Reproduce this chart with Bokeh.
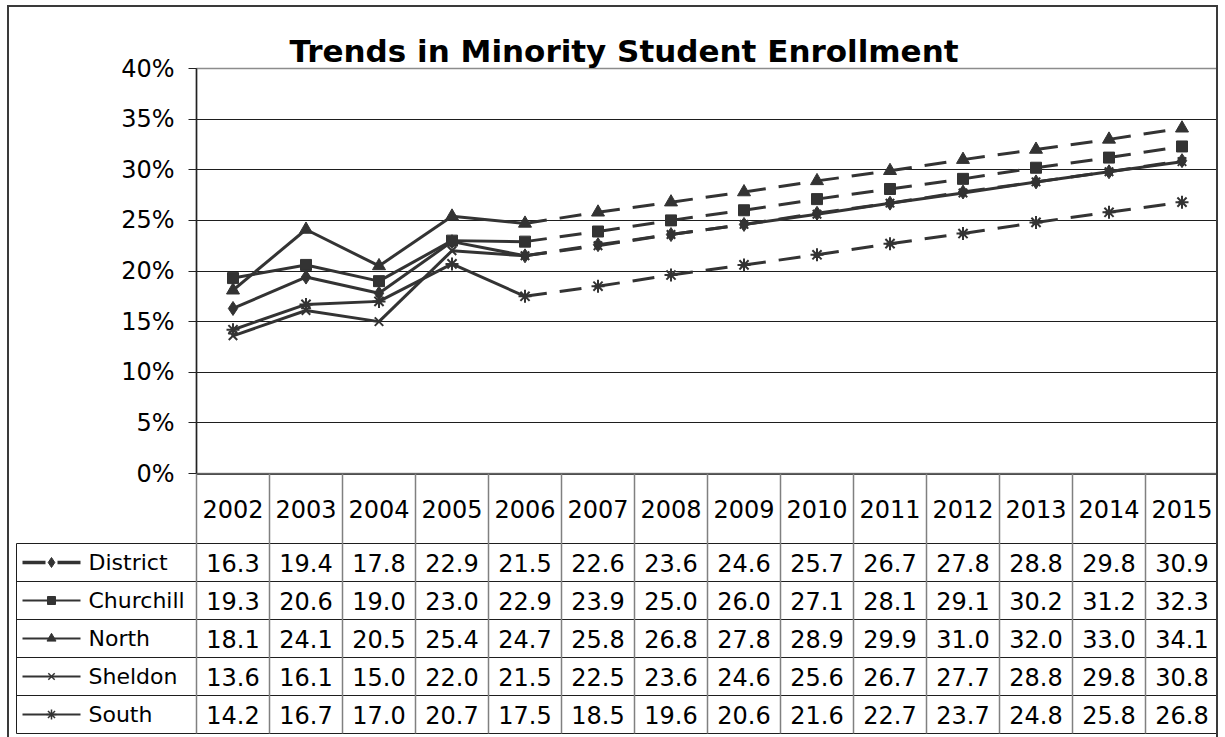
from bokeh.plotting import figure
from bokeh.models import Range1d, FixedTicker, PrintfTickFormatter
from bokeh.core.properties import value
from bokeh.embed import file_html
from bokeh.resources import INLINE

# ---- data -------------------------------------------------------------
years = [2002, 2003, 2004, 2005, 2006, 2007, 2008, 2009, 2010, 2011, 2012, 2013, 2014, 2015]
series_names = ["District", "Churchill", "North", "Sheldon", "South"]
district = [16.3, 19.4, 17.8, 22.9, 21.5, 22.6, 23.6, 24.6, 25.7, 26.7, 27.8, 28.8, 29.8, 30.9]
churchill = [19.3, 20.6, 19.0, 23.0, 22.9, 23.9, 25.0, 26.0, 27.1, 28.1, 29.1, 30.2, 31.2, 32.3]
north = [18.1, 24.1, 20.5, 25.4, 24.7, 25.8, 26.8, 27.8, 28.9, 29.9, 31.0, 32.0, 33.0, 34.1]
sheldon = [13.6, 16.1, 15.0, 22.0, 21.5, 22.5, 23.6, 24.6, 25.6, 26.7, 27.7, 28.8, 29.8, 30.8]
south = [14.2, 16.7, 17.0, 20.7, 17.5, 18.5, 19.6, 20.6, 21.6, 22.7, 23.7, 24.8, 25.8, 26.8]
y_ticks = [0, 5, 10, 15, 20, 25, 30, 35, 40]
title_text = "Trends in Minority Student Enrollment"

series_values = [district, churchill, north, sheldon, south]
# projected years are drawn dashed: (first dashed year, first solid year again)
projection = {"District": (2006, None), "Churchill": (2006, None), "North": (2006, None),
              "Sheldon": (2006, 2009), "South": (2006, None)}

# ---- styling ----------------------------------------------------------
FONT = "DejaVu Sans"
INK = "#333333"
FRAME = "2px solid #3a3a3a"
markers = {"District": ("diamond", 14, 1), "Churchill": ("square", 11, 1),
           "North": ("triangle", 13, 1), "Sheldon": ("x", 12, 2), "South": ("asterisk", 13, 2)}
legend_markers = {"District": ("diamond", 10, 1), "Churchill": ("square", 8, 1),
                  "North": ("triangle", 9, 1), "Sheldon": ("x", 9, 1.5), "South": ("asterisk", 10, 1.5)}

# page geometry (pixels)
BOX_L, BOX_T, BW = 7, 5, 2
INNER_L, INNER_R, INNER_T = BOX_L + BW, 1220, BOX_T + BW
PLOT_L, PLOT_R, PLOT_T, AXIS_Y = 196, 1218, 68, 473
CHART_B = 490
LEG_L = 16
HEAD_B = 543
ROW_H = 38
TABLE_B = HEAD_B + ROW_H * len(series_names)
BOTTOM = 739
COL_W = (PLOT_R - PLOT_L) / len(years)

# ---- chart ------------------------------------------------------------
p = figure(width=INNER_R - INNER_L, height=CHART_B - INNER_T,
           x_range=Range1d(years[0] - 0.5, years[-1] + 0.5), y_range=Range1d(0, 40),
           x_axis_location=None, output_backend="svg", toolbar_location=None,
           min_border_left=PLOT_L - INNER_L, min_border_right=INNER_R - PLOT_R,
           min_border_top=PLOT_T - INNER_T, min_border_bottom=CHART_B - AXIS_Y,
           styles={"position": "absolute", "left": f"{BOX_L}px", "top": f"{BOX_T}px",
                   "border-left": FRAME, "border-top": FRAME, "border-right": FRAME})
p.background_fill_color = "white"
p.border_fill_color = "white"
p.outline_line_color = "#8c8c8c"
p.outline_line_width = 1.5

p.title.text = title_text
p.title.align = "left"
p.title.offset = 93
p.title.standoff = 0
p.title.text_font = FONT
p.title.text_font_size = "31px"
p.title.text_font_style = "bold"
p.title.text_color = "black"

p.xgrid.visible = False
p.ygrid.ticker = FixedTicker(ticks=y_ticks[:-1])
p.ygrid.grid_line_color = "#1e1e1e"
p.ygrid.grid_line_width = 1

ax = p.yaxis[0]
ax.ticker = FixedTicker(ticks=y_ticks)
ax.formatter = PrintfTickFormatter(format="%d%%")
ax.major_tick_out = 8
ax.major_tick_in = 0
ax.minor_tick_out = 0
ax.minor_tick_in = 0
ax.major_tick_line_color = "#222222"
ax.axis_line_color = "#222222"
ax.axis_line_width = 1.5
ax.major_label_standoff = 14
ax.major_label_text_font = FONT
ax.major_label_text_font_size = "24px"
ax.major_label_text_color = "black"

for name, vals in zip(series_names, series_values):
    dash_from, dash_until = projection[name]
    solid = {"x0": [], "y0": [], "x1": [], "y1": []}
    dashed = {"x0": [], "y0": [], "x1": [], "y1": []}
    for i in range(len(years) - 1):
        is_dashed = years[i] >= dash_from and (dash_until is None or years[i] < dash_until)
        target = dashed if is_dashed else solid
        target["x0"].append(years[i]); target["y0"].append(vals[i])
        target["x1"].append(years[i + 1]); target["y1"].append(vals[i + 1])
    p.segment(line_color=INK, line_width=3, line_cap="butt", **solid)
    p.segment(line_color=INK, line_width=3, line_cap="butt", line_dash="22 13", **dashed)

for name, vals in zip(series_names, series_values):
    mk, sz, lw = markers[name]
    p.scatter(years, vals, marker=mk, size=sz, line_width=lw,
              line_color=INK, fill_color=INK)

# ---- data table -------------------------------------------------------
t = figure(width=INNER_R - INNER_L, height=BOTTOM - AXIS_Y,
           x_range=Range1d(INNER_L, INNER_R), y_range=Range1d(BOTTOM, AXIS_Y),
           x_axis_location=None, y_axis_location=None, output_backend="svg",
           toolbar_location=None, min_border=0,
           styles={"position": "absolute", "left": f"{BOX_L}px", "top": f"{AXIS_Y}px",
                   "border-left": FRAME, "border-right": FRAME})
t.grid.visible = False
t.outline_line_color = None
t.background_fill_color = None
t.border_fill_color = None

col_edges = [PLOT_L + COL_W * k for k in range(len(years) + 1)]
col_centers = [PLOT_L + COL_W * (k + 0.5) for k in range(len(years))]
row_edges = [HEAD_B + ROW_H * k for k in range(len(series_names) + 1)]
row_centers = [HEAD_B + ROW_H * (k + 0.5) for k in range(len(series_names))]

# cell borders
t.segment(x0=[PLOT_L], y0=[AXIS_Y + 0.5], x1=[PLOT_R], y1=[AXIS_Y + 0.5],
          line_color="#1e1e1e", line_width=1.5)
t.segment(x0=[LEG_L] * len(row_edges), y0=row_edges, x1=[PLOT_R] * len(row_edges), y1=row_edges,
          line_color="#1e1e1e", line_width=1)
t.segment(x0=[LEG_L], y0=[HEAD_B], x1=[LEG_L], y1=[TABLE_B], line_color="#1e1e1e", line_width=1)
t.segment(x0=col_edges, y0=[AXIS_Y] * len(col_edges), x1=col_edges, y1=[TABLE_B] * len(col_edges),
          line_color="#808080", line_width=1.5)

# header row of years
t.text(x=col_centers, y=[(AXIS_Y + HEAD_B) / 2] * len(years), text=[str(y) for y in years],
       text_font=value(FONT), text_font_size="24px", text_color="black",
       text_align="center", text_baseline="middle")

# value rows
for r, (name, vals) in enumerate(zip(series_names, series_values)):
    cy = row_centers[r]
    t.text(x=col_centers, y=[cy] * len(vals), text=[f"{v:.1f}" for v in vals],
           text_font=value(FONT), text_font_size="24px", text_color="black",
           text_align="center", text_baseline="middle")
    # legend key
    if name == "District":
        t.segment(x0=[22], y0=[cy], x1=[80], y1=[cy], line_color=INK, line_width=3.5,
                  line_dash="23 12")
    else:
        t.segment(x0=[22], y0=[cy], x1=[80], y1=[cy], line_color=INK, line_width=2)
    mk, sz, lw = legend_markers[name]
    t.scatter([51], [cy], marker=mk, size=sz, line_width=lw, line_color=INK, fill_color=INK)
    t.text(x=[88], y=[cy], text=[name], text_font=value(FONT), text_font_size="22px",
           text_color="black", text_align="left", text_baseline="middle")

open("out.html", "w").write(file_html([p, t], INLINE))
